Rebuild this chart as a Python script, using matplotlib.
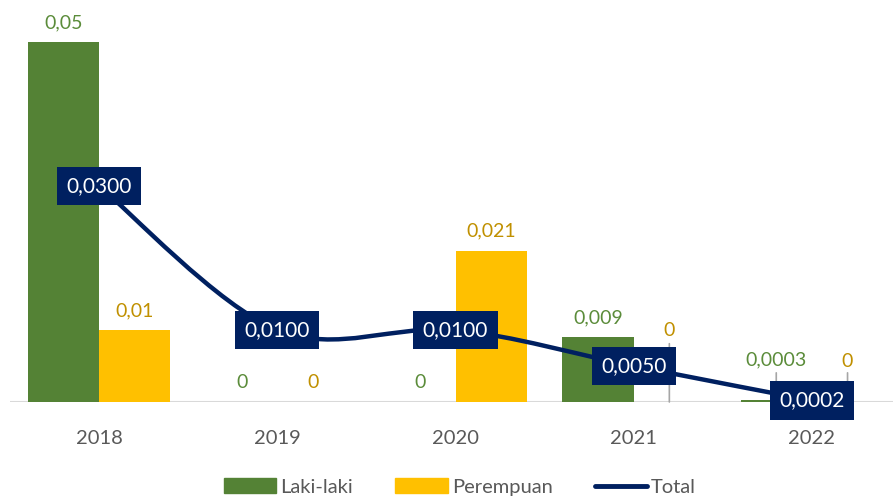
import matplotlib
matplotlib.use("Agg")
import matplotlib.pyplot as plt
from matplotlib.path import Path
from matplotlib.patches import PathPatch
from matplotlib.lines import Line2D
from matplotlib.patches import Patch

years = ["2018", "2019", "2020", "2021", "2022"]
laki = [0.05, 0, 0, 0.009, 0.0003]
perempuan = [0.01, 0, 0.021, 0, 0]
total = [0.03, 0.01, 0.01, 0.005, 0.0002]
laki_labels = ["0,05", "0", "0", "0,009", "0,0003"]
per_labels = ["0,01", "0", "0,021", "0", "0"]
total_labels = ["0,0300", "0,0100", "0,0100", "0,0050", "0,0002"]

GREEN = "#548235"
GREEN_T = "#5b8c3a"
YELLOW = "#FFC000"
YELLOW_T = "#C09000"
NAVY = "#002060"
GRAY = "#595959"

plt.rcParams['font.family'] = ['Lato', 'DejaVu Sans']

W, H = 893, 501
fig = plt.figure(figsize=(W / 100, H / 100), dpi=100)
# axes in pixel coordinates: x 10..901, y 10..402 (from top)
ax = fig.add_axes([10 / W, (H - 402) / H, 891 / W, 392 / H])
ax.set_xlim(-0.5, 4.5)
ax.set_ylim(0, 0.05 * 392 / 360)
for s in ax.spines.values():
    s.set_visible(False)
ax.set_yticks([])
ax.axhline(0, color="#d9d9d9", lw=1.5, zorder=1)

x = list(range(len(years)))
bw = 0.4
ax.bar([i - bw / 2 for i in x], laki, width=bw, color=GREEN, zorder=2)
ax.bar([i + bw / 2 for i in x], perempuan, width=bw, color=YELLOW, zorder=2)

ax.set_xticks(x)
ax.set_xticklabels(years, fontsize=14.5, color=GRAY)
ax.tick_params(axis='x', length=0, pad=20)

# bar labels (offset in points above bar top)
laki_off = [8, 8, 8, 8, 23]
per_off = [8, 8, 8, 45, 23]
for i in x:
    ax.annotate(laki_labels[i], (i - bw / 2, laki[i]), xytext=(0, laki_off[i]),
                textcoords="offset points", ha="center", va="bottom",
                fontsize=14, color=GREEN_T, zorder=5)
    ax.annotate(per_labels[i], (i + bw / 2, perempuan[i]), xytext=(0, per_off[i]),
                textcoords="offset points", ha="center", va="bottom",
                fontsize=14, color=YELLOW_T, zorder=5)

# leader lines for moved labels
for xd, top in [(3 + bw / 2, 42), (4 - bw / 2, 21), (4 + bw / 2, 21)]:
    ax.annotate("", xy=(xd, 0), xycoords="data",
                xytext=(0, top), textcoords="offset points",
                arrowprops=dict(arrowstyle="-", color="#a6a6a6", lw=1.2,
                                shrinkA=0, shrinkB=0), zorder=1.5)

# smoothed total line (Catmull-Rom -> cubic Bezier)
pts = list(zip(x, total))
verts = [pts[0]]
codes = [Path.MOVETO]
n = len(pts)
for i in range(n - 1):
    p0 = pts[i - 1] if i > 0 else pts[i]
    p1 = pts[i]
    p2 = pts[i + 1]
    p3 = pts[i + 2] if i + 2 < n else pts[i + 1]
    c1 = (p1[0] + (p2[0] - p0[0]) / 6, p1[1] + (p2[1] - p0[1]) / 6)
    c2 = (p2[0] - (p3[0] - p1[0]) / 6, p2[1] - (p3[1] - p1[1]) / 6)
    verts += [c1, c2, p2]
    codes += [Path.CURVE4] * 3
ax.add_patch(PathPatch(Path(verts, codes), fill=False, edgecolor=NAVY, lw=3.2,
                       capstyle="round", zorder=3))

for i in x:
    ax.text(i, total[i], total_labels[i], ha="center", va="center",
            fontsize=15, color="white", zorder=6,
            bbox=dict(boxstyle="square,pad=0.45", fc=NAVY, ec="none"))

handles = [Patch(color=GREEN, label="Laki-laki"),
           Patch(color=YELLOW, label="Perempuan"),
           Line2D([0], [0], color=NAVY, lw=3.5, solid_capstyle="round", label="Total")]
fig.legend(handles=handles, loc="center", bbox_to_anchor=(460 / W, 1 - 487 / H),
           ncol=3, frameon=False, fontsize=14.5, labelcolor=GRAY,
           handlelength=2.6, handleheight=0.7, handletextpad=0.2, columnspacing=2.1)

fig.savefig("out.png", dpi=100)
